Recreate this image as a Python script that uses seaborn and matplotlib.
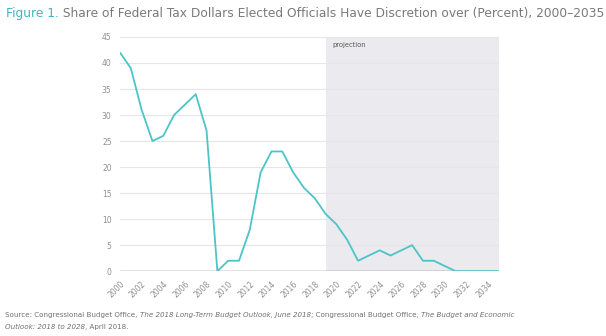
import matplotlib
matplotlib.use("Agg")
import matplotlib.pyplot as plt
import seaborn as sns
import pandas as pd

years = list(range(2000, 2036))
share = [42, 39, 31, 25, 26, 30, 32, 34, 27, 0, 2, 2, 8, 19, 23, 23, 19, 16, 14, 11,
         9, 6, 2, 3, 4, 3, 4, 5, 2, 2, 1, 0, 0, 0, 0, 0]
yticks = list(range(0, 50, 5))
xticks = list(range(2000, 2036, 2))
projection_start = 2019
projection_end = 2035

title_lead = "Figure 1."
title_rest = " Share of Federal Tax Dollars Elected Officials Have Discretion over (Percent), 2000–2035"
source_pieces_1 = [("Source: Congressional Budget Office, ", "normal"),
                   ("The 2018 Long-Term Budget Outlook, June 2018", "italic"),
                   ("; Congressional Budget Office, ", "normal"),
                   ("The Budget and Economic", "italic")]
source_pieces_2 = [("Outlook: 2018 to 2028", "italic"), (", April 2018.", "normal")]

sns.set_theme(style="white")
plt.rcParams["font.family"] = ["DejaVu Sans"]

df = pd.DataFrame({"year": years, "share": share})

fig = plt.figure(figsize=(6.06, 3.36), dpi=100)
ax = fig.add_axes([0.198, 0.193, 0.625, 0.697])

ax.axvspan(projection_start, projection_end, color="#ebeaee", zorder=0, lw=0)
for t in yticks[1:]:
    ax.axhline(t, color="#e6e6ea", lw=0.8, zorder=1)
sns.lineplot(data=df, x="year", y="share", ax=ax, color="#4cc4c8", lw=1.3, zorder=3)
ax.axhline(0, color="#6e6e6e", lw=1.0, zorder=2)

ax.set_xlim(2000, 2035)
ax.set_ylim(0, 45)
ax.set_xticks(xticks)
ax.set_xticklabels([str(x) for x in xticks], rotation=45, ha="right", rotation_mode="anchor",
                   fontsize=5.5, color="#8f8f8f")
ax.set_yticks(yticks)
ax.set_yticklabels([str(y) for y in yticks], fontsize=5.5, color="#8f8f8f")
ax.tick_params(axis="both", length=0, pad=6)
ax.set_xlabel("")
ax.set_ylabel("")
for s in ax.spines.values():
    s.set_visible(False)

ax.text(projection_start + 0.6, 44, "projection", fontsize=4.8, color="#555555", va="top", ha="left")

fig.canvas.draw()
renderer = fig.canvas.get_renderer()

def seq_text(x0, y0, pieces, size, default_color="#707070"):
    x = x0
    for piece in pieces:
        txt, style = piece[0], piece[1]
        color = piece[2] if len(piece) > 2 else default_color
        t = fig.text(x, y0, txt, fontsize=size, color=color, style=style,
                     ha="left", va="baseline", transform=None)
        bb = t.get_window_extent(renderer=renderer)
        x = bb.x1

h = fig.get_figheight() * fig.dpi
seq_text(6, h - 17, [(title_lead, "normal", "#3fb5c0"), (title_rest, "normal", "#7a7a7a")], 8.8)
seq_text(5, h - 317, source_pieces_1, 5.15)
seq_text(5, h - 329, source_pieces_2, 5.15)

fig.savefig("out.png", dpi=100)
